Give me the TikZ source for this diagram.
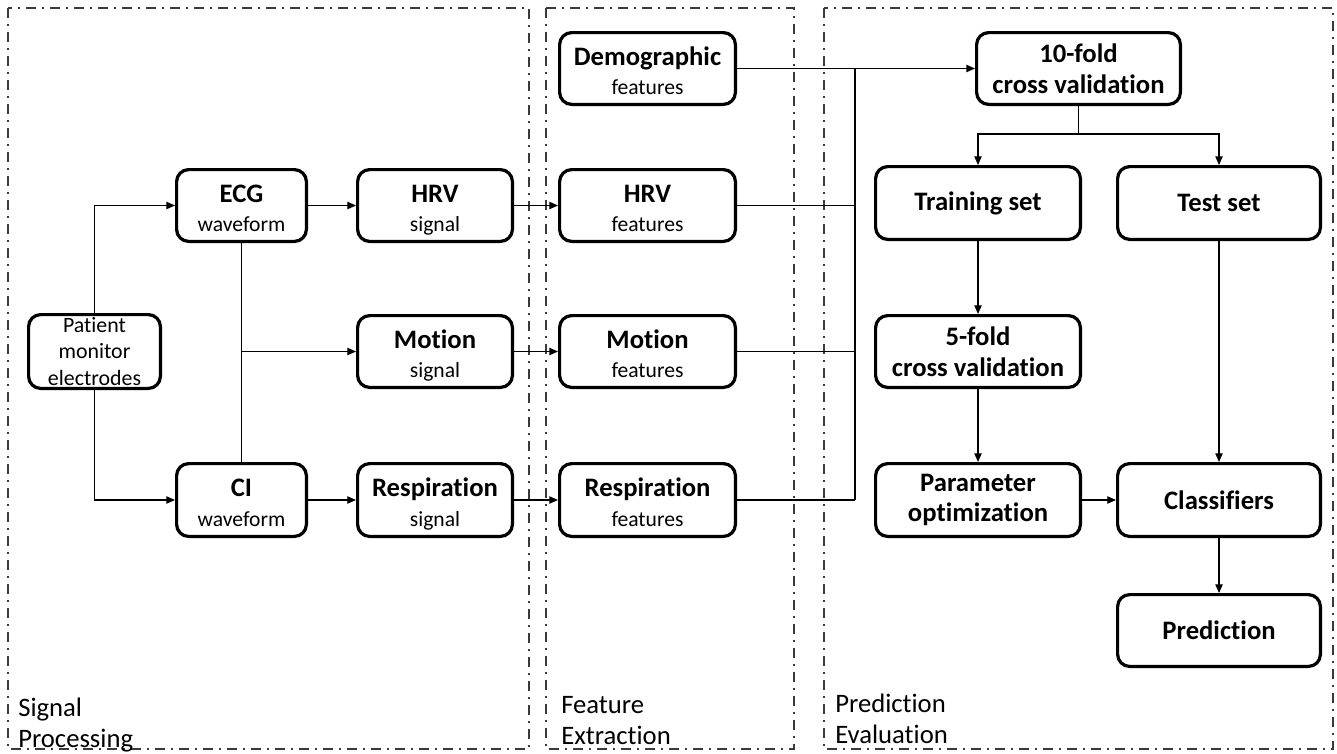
\documentclass[tikz,border=0pt]{standalone}
\usepackage{fontspec}
\setmainfont{Carlito}[Ligatures=NoCommon]
\usetikzlibrary{arrows.meta}
\definecolor{regiongray}{HTML}{3A3A3A}
\newcommand\ttl[1]{{\bfseries\fontsize{20}{22}\selectfont #1}}
\newcommand\tsub[2]{\rule{0pt}{21pt}\ttl{#1}\\#2\rule[-4pt]{0pt}{4pt}}
\newcommand\bx[6]{\node[box, minimum width={(#4-#2)*0.75pt-2.4pt}, minimum height={(#5-#3)*0.75pt-2.4pt}] (#1) at ({(#2+#4)/2},{(#3+#5)/2}) {#6};}
\begin{document}
\begin{tikzpicture}[x=0.75pt,y=-0.75pt,
  box/.style={draw=black, line width=2.4pt, rounded corners=9pt, align=center, inner sep=0pt,
    font=\fontsize{16.2}{22}\selectfont},
  pmbox/.style={box, font=\fontsize{16.4}{20}\selectfont},
  region/.style={draw=regiongray, line width=1.4pt,
    dash pattern=on 7.5pt off 4.5pt on 1.5pt off 4.5pt},
  conn/.style={draw=black, line width=0.9pt, -{Triangle[length=6.5pt,width=5.5pt]}},
  plain/.style={draw=black, line width=0.9pt},
  rlabel/.style={anchor=base west, inner sep=0pt, align=left, font=\fontsize{20}{23}\selectfont}]
\useasboundingbox (0,0) rectangle (1337,753);
% regions
\draw[region] (8,8) rectangle (529,749);
\draw[region] (546,8) rectangle (794,749);
\draw[region] (824,8) rectangle (1333,749);
\node[rlabel] (lsp) at (18,747) {Signal\\Processing};
\node[rlabel] (lfe) at (561,744) {Feature\\Extraction};
\node[rlabel] (lpe) at (835,743) {Prediction\\Evaluation};
% boxes
\node[pmbox, minimum width={135*0.75pt-2.4pt}, minimum height={77*0.75pt-2.4pt}] (pm) at (94.5,351.5) {Patient\\monitor\\electrodes};
\bx{ecg}{175}{168}{308}{243}{\tsub{ECG}{waveform}}
\bx{hrvs}{356}{168}{514}{243}{\tsub{HRV}{signal}}
\bx{mots}{356}{314}{514}{389}{\tsub{Motion}{signal}}
\bx{ci}{175}{462}{308}{538}{\tsub{CI}{waveform}}
\bx{resps}{356}{462}{514}{538}{\tsub{Respiration}{signal}}
\bx{demo}{558}{31}{737}{106}{\tsub{Demographic}{features}}
\bx{hrvf}{558}{168}{737}{243}{\tsub{HRV}{features}}
\bx{motf}{558}{314}{737}{389}{\tsub{Motion}{features}}
\bx{respf}{558}{462}{737}{538}{\tsub{Respiration}{features}}
\bx{tenf}{975}{31}{1182}{106}{\ttl{10-fold}\\[1pt]\ttl{cross validation}}
\bx{train}{874}{165}{1082}{241}{\ttl{Training set}}
\bx{test}{1116}{165}{1322}{241}{\ttl{Test set}}
\bx{five}{874}{314}{1082}{389}{\ttl{5-fold}\\[1pt]\ttl{cross validation}}
\bx{param}{874}{462}{1082}{538}{\ttl{Parameter}\\[1pt]\ttl{optimization}}
\bx{clf}{1116}{462}{1322}{538}{\ttl{Classifiers}}
\bx{pred}{1116}{593}{1322}{668}{\ttl{Prediction}}
% connectors: signal processing
\draw[conn] (pm.north) |- (ecg.west);
\draw[conn] (pm.south) |- (ci.west);
\draw[conn] (ecg.east) -- (hrvs.west);
\draw[plain] (ecg.south) -- (ci.north);
\draw[conn] (ecg.south |- mots.west) -- (mots.west);
\draw[conn] (ci.east) -- (resps.west);
% to features
\draw[conn] (hrvs.east) -- (hrvf.west);
\draw[conn] (mots.east) -- (motf.west);
\draw[conn] (resps.east) -- (respf.west);
% bus to 10-fold
\coordinate (bus) at (855,0);
\draw[conn] (demo.east) -- (tenf.west);
\draw[plain, line width=1.3pt] (bus |- demo.east) -- (bus |- respf.east);
\draw[plain] (hrvf.east) -- (hrvf.east -| bus);
\draw[plain] (motf.east) -- (motf.east -| bus);
\draw[plain] (respf.east) -- (respf.east -| bus);
% prediction evaluation
\coordinate (sp) at (1078,134);
\draw[plain] (tenf.south) -- (tenf.south |- sp);
\draw[conn] (tenf.south |- sp) -| (train.north);
\draw[conn] (tenf.south |- sp) -| (test.north);
\draw[conn] (train.south) -- (five.north);
\draw[conn] (five.south) -- (param.north);
\draw[conn] (param.east) -- (clf.west);
\draw[conn] (test.south) -- (clf.north);
\draw[conn] (clf.south) -- (pred.north);
\end{tikzpicture}
\end{document}
